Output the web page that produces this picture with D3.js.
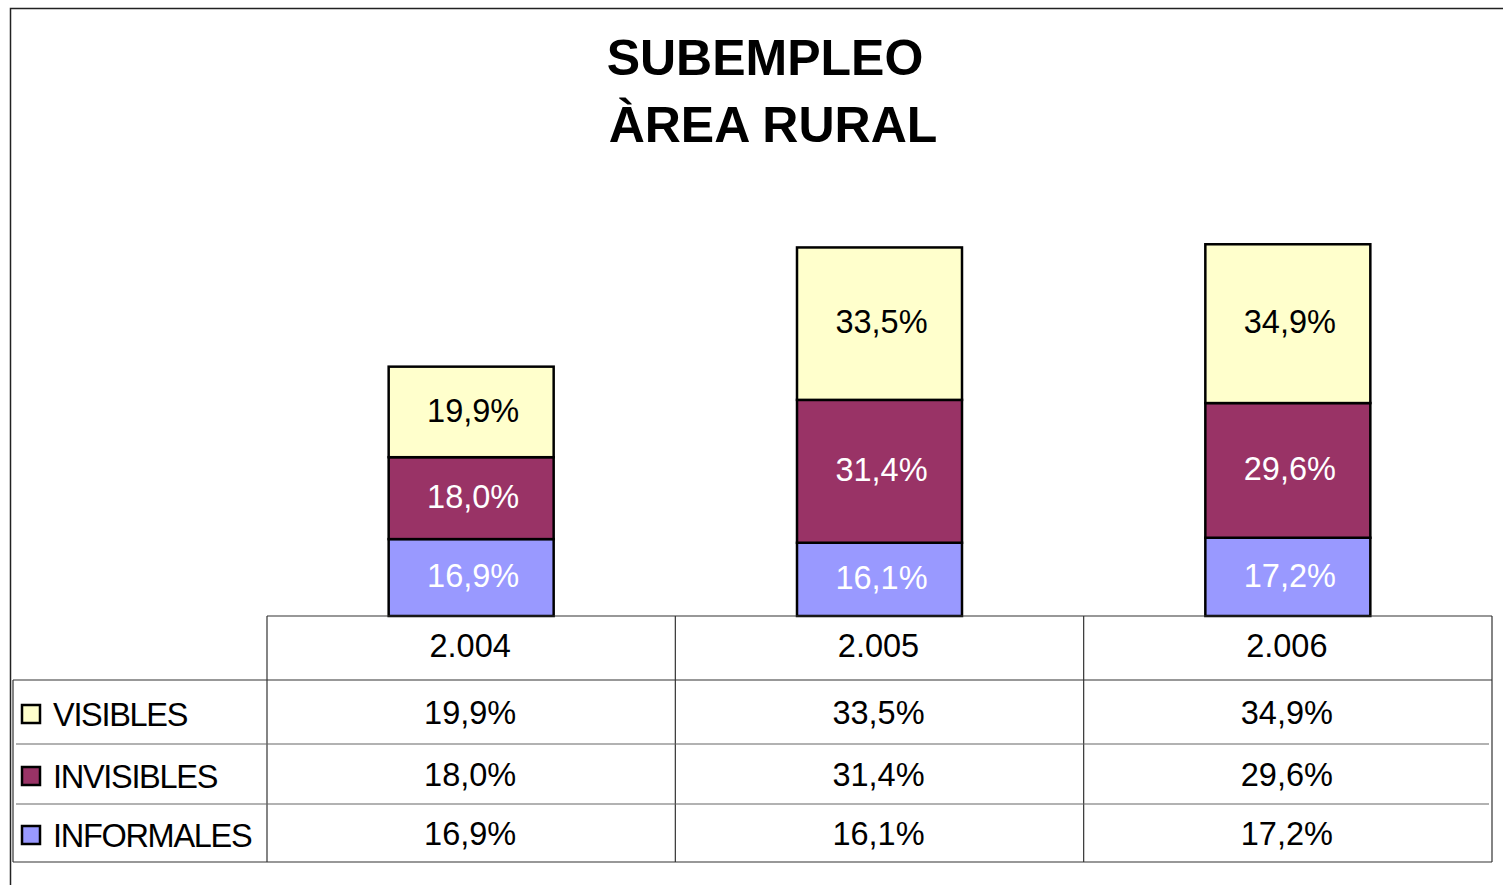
<!DOCTYPE html>
<html>
<head>
<meta charset="utf-8">
<script src="https://cdn.jsdelivr.net/npm/d3@7"></script>
<style>
	body { margin: 0; background: #fff; }
	svg { display: block; font-family: "Liberation Sans", Arial, sans-serif; }
</style>
</head>
<body>
<div id="chart"></div>
<script>
// Data
var years = ["2.004", "2.005", "2.006"];
var seriesNames = ["INFORMALES", "INVISIBLES", "VISIBLES"];
var informales = [16.9, 16.1, 17.2];
var invisibles = [18.0, 31.4, 29.6];
var visibles = [19.9, 33.5, 34.9];
var seriesColors = ["#9999FF", "#993366", "#FFFFCC"];
var labelColors = ["#ffffff", "#ffffff", "#000000"];

var width = 1503, height = 885;
var fontSize = 32.5;

var svg = d3.select("#chart").append("svg")
	.attr("width", width)
	.attr("height", height);

// Outer frame (only top and left are visible in the picture)
svg.append("path")
	.attr("d", "M10.5,885 L10.5,8.5 L1503,8.5")
	.attr("fill", "none")
	.attr("stroke", "#222")
	.attr("stroke-width", 1.5);

// Title
var title = svg.append("text")
	.attr("text-anchor", "middle")
	.attr("font-weight", "bold")
	.attr("font-size", 50)
	.attr("fill", "#000");
title.append("tspan").attr("x", 765).attr("y", 75).text("SUBEMPLEO");
title.append("tspan").attr("x", 773).attr("y", 142).text("ÀREA RURAL");

// Scales
var x = d3.scaleBand()
	.domain(years)
	.range([267, 1492])
	.padding(0);

var y = d3.scaleLinear()
	.domain([0, 90])
	.range([616, 616 - 90 * 4.55]);

var barWidth = 165;

var rows = years.map(function (yr, i) {
	return { year: yr, INFORMALES: informales[i], INVISIBLES: invisibles[i], VISIBLES: visibles[i] };
});

var stacked = d3.stack().keys(seriesNames)(rows);

var fmt = function (v) { return v.toFixed(1).replace(".", ",") + "%"; };

// Bars
var layers = svg.selectAll("g.layer")
	.data(stacked)
	.enter().append("g")
	.attr("class", "layer");

layers.each(function (layer, li) {
	var g = d3.select(this);
	g.selectAll("rect")
		.data(layer)
		.enter().append("rect")
		.attr("x", function (d) { return x(d.data.year) + x.bandwidth() / 2 - barWidth / 2; })
		.attr("y", function (d) { return y(d[1]); })
		.attr("width", barWidth)
		.attr("height", function (d) { return y(d[0]) - y(d[1]); })
		.attr("fill", seriesColors[li])
		.attr("stroke", "#000")
		.attr("stroke-width", 2.5);
});

layers.each(function (layer, li) {
	d3.select(this).selectAll("text")
		.data(layer)
		.enter().append("text")
		.attr("x", function (d) { return x(d.data.year) + x.bandwidth() / 2 + 2; })
		.attr("y", function (d) { return (y(d[0]) + y(d[1])) / 2 - 2; })
		.attr("dy", "0.36em")
		.attr("text-anchor", "middle")
		.attr("font-size", fontSize)
		.attr("fill", labelColors[li])
		.text(function (d) { return fmt(d[1] - d[0]); });
});

// Data table
var tableTop = 616, headerH = 64;
var rowBounds = [680, 744, 804, 862];
var tableLeft = 13;
var tableRight = 1492;

var grid = svg.append("g").attr("stroke", "#333").attr("stroke-width", 1.2);

grid.append("line").attr("x1", 267).attr("x2", tableRight).attr("y1", tableTop).attr("y2", tableTop);
grid.append("line").attr("x1", 267).attr("x2", 267).attr("y1", tableTop).attr("y2", rowBounds[3]);
grid.append("line").attr("x1", tableRight).attr("x2", tableRight).attr("y1", tableTop).attr("y2", rowBounds[3]);
years.forEach(function (yr, i) {
	if (i > 0) {
		grid.append("line").attr("x1", x(yr)).attr("x2", x(yr)).attr("y1", tableTop).attr("y2", rowBounds[3]);
	}
});
grid.append("line").attr("x1", tableLeft).attr("x2", tableRight).attr("y1", rowBounds[0]).attr("y2", rowBounds[0]);
grid.append("line").attr("x1", tableLeft).attr("x2", tableRight).attr("y1", rowBounds[3]).attr("y2", rowBounds[3]);
grid.append("line").attr("x1", tableLeft).attr("x2", tableLeft).attr("y1", rowBounds[0]).attr("y2", rowBounds[3]);
[rowBounds[1], rowBounds[2]].forEach(function (ty) {
	grid.append("line").attr("x1", 16).attr("x2", 1489).attr("y1", ty).attr("y2", ty).attr("stroke", "#666");
});

// header labels
svg.selectAll("text.year")
	.data(years)
	.enter().append("text")
	.attr("class", "year")
	.attr("x", function (d) { return x(d) + x.bandwidth() / 2 - 1; })
	.attr("y", tableTop + headerH / 2 - 3)
	.attr("dy", "0.36em")
	.attr("text-anchor", "middle")
	.attr("font-size", fontSize)
	.text(function (d) { return d; });

// table rows, top to bottom: visibles, invisibles, informales
var tableRows = [
	{ name: "VISIBLES", values: visibles, color: seriesColors[2] },
	{ name: "INVISIBLES", values: invisibles, color: seriesColors[1] },
	{ name: "INFORMALES", values: informales, color: seriesColors[0] }
];

tableRows.forEach(function (r, i) {
	var cy = (rowBounds[i] + rowBounds[i + 1]) / 2;
	svg.append("rect")
		.attr("x", 22).attr("y", cy - 7)
		.attr("width", 18).attr("height", 18)
		.attr("fill", r.color)
		.attr("stroke", "#000")
		.attr("stroke-width", 2.5);
	svg.append("text")
		.attr("x", 53).attr("y", cy + 2)
		.attr("dy", "0.36em")
		.attr("font-size", fontSize)
		.attr("letter-spacing", -1.3)
		.text(r.name);
	svg.selectAll(null)
		.data(r.values)
		.enter().append("text")
		.attr("x", function (d, j) { return x(years[j]) + x.bandwidth() / 2 - 1; })
		.attr("y", cy)
		.attr("dy", "0.36em")
		.attr("text-anchor", "middle")
		.attr("font-size", fontSize)
		.text(function (d) { return fmt(d); });
});
</script>
</body>
</html>
